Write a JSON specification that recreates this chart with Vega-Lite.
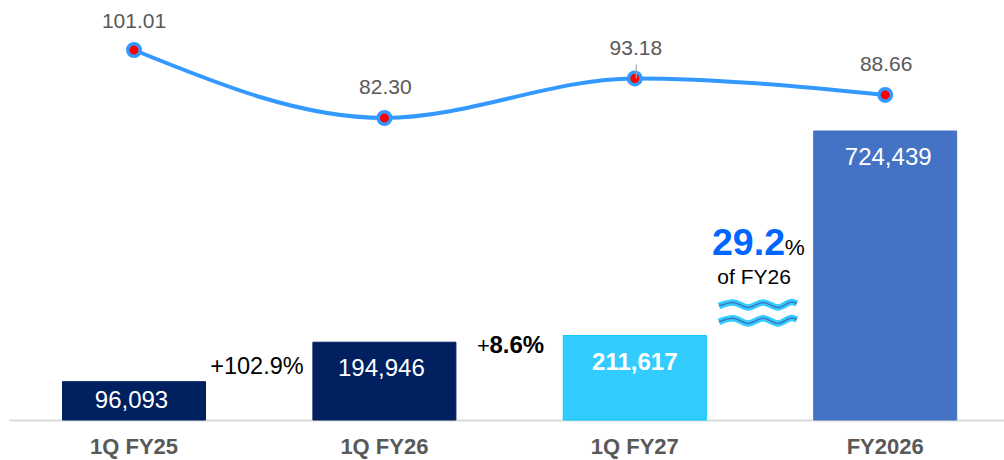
{"$schema":"https://vega.github.io/schema/vega-lite/v6.json","width":1004,"height":460,"padding":0,"autosize":{"type":"none"},"background":"white","config":{"view":{"stroke":null},"text":{"font":"Liberation Sans"}},
"datasets":{
"bars":[{"cat":"1Q FY25","sales":96093,"label":"96,093"},{"cat":"1Q FY26","sales":194946,"label":"194,946"},{"cat":"1Q FY27","sales":211617,"label":"211,617"},{"cat":"FY2026","sales":724439,"label":"724,439"}],
"line":[{"cat":"1Q FY25","v":101.01,"label":"101.01"},{"cat":"1Q FY26","v":82.30,"label":"82.30"},{"cat":"1Q FY27","v":93.18,"label":"93.18"},{"cat":"FY2026","v":88.66,"label":"88.66"}],
"leader":[{"cat":"1Q FY27","v":93.18,"v2":97.0}],
"notes":[{"i":0.491,"y":133000,"t":"+102.9%","k":"a"},{"i":2.477,"y":356000,"t":"of FY26","k":"b"}],
"wave":[
{"w":"a","i":2.337,"y":286000},{"w":"a","i":2.393,"y":294800},{"w":"a","i":2.453,"y":282000},{"w":"a","i":2.513,"y":294800},{"w":"a","i":2.573,"y":282000},{"w":"a","i":2.628,"y":295500},{"w":"a","i":2.648,"y":292000},
{"w":"b","i":2.337,"y":246000},{"w":"b","i":2.393,"y":254800},{"w":"b","i":2.453,"y":242000},{"w":"b","i":2.513,"y":254800},{"w":"b","i":2.573,"y":242000},{"w":"b","i":2.628,"y":255500},{"w":"b","i":2.648,"y":252000}]
},
"resolve":{"scale":{"x":"independent","y":"independent","color":"independent","stroke":"independent"}},
"layer":[
{"data":{"name":"bars"},"mark":{"type":"bar","width":143,"strokeWidth":1},
"encoding":{"x":{"field":"cat","type":"nominal","sort":null,"scale":{"type":"band","range":[8.8,1010.4],"paddingInner":0,"paddingOuter":0},"axis":{"title":null,"offset":-40,"ticks":false,"domainColor":"#D9D9D9","domainWidth":2,"labelFont":"Liberation Sans","labelFontWeight":"bold","labelFontSize":22,"labelColor":"#595959","labelPadding":16,"labelAngle":0,"grid":false}},
"y":{"field":"sales","type":"quantitative","scale":{"domain":[-100268,1052800],"nice":false,"zero":false},"axis":null},
"color":{"field":"cat","type":"nominal","sort":null,"legend":null,"scale":{"range":["#002060","#002060","#33CCFF","#4472C4"]}},
"stroke":{"field":"cat","type":"nominal","sort":null,"legend":null,"scale":{"range":["#002060","#002060","#00C8F5","#4472C4"]}}}},
{"data":{"name":"bars"},"transform":[{"filter":"datum.cat==='1Q FY25'"}],"mark":{"type":"text","fontSize":24,"color":"white","dy":19,"dx":-2.5,"baseline":"middle"},
"encoding":{"x":{"field":"cat","type":"nominal","sort":null,"scale":{"type":"band","domain":["1Q FY25","1Q FY26","1Q FY27","FY2026"],"range":[8.8,1010.4]},"axis":null},"y":{"field":"sales","type":"quantitative","scale":{"domain":[-100268,1052800],"nice":false,"zero":false},"axis":null},"text":{"field":"label"}}},
{"data":{"name":"bars"},"transform":[{"filter":"datum.cat==='1Q FY26'"}],"mark":{"type":"text","fontSize":24,"color":"white","dy":27,"dx":-3,"baseline":"middle"},
"encoding":{"x":{"field":"cat","type":"nominal","sort":null,"scale":{"type":"band","domain":["1Q FY25","1Q FY26","1Q FY27","FY2026"],"range":[8.8,1010.4]},"axis":null},"y":{"field":"sales","type":"quantitative","scale":{"domain":[-100268,1052800],"nice":false,"zero":false},"axis":null},"text":{"field":"label"}}},
{"data":{"name":"bars"},"transform":[{"filter":"datum.cat==='FY2026'"}],"mark":{"type":"text","fontSize":24,"color":"white","dy":27,"dx":3,"baseline":"middle"},
"encoding":{"x":{"field":"cat","type":"nominal","sort":null,"scale":{"type":"band","domain":["1Q FY25","1Q FY26","1Q FY27","FY2026"],"range":[8.8,1010.4]},"axis":null},"y":{"field":"sales","type":"quantitative","scale":{"domain":[-100268,1052800],"nice":false,"zero":false},"axis":null},"text":{"field":"label"}}},
{"data":{"name":"bars"},"transform":[{"filter":"datum.cat==='1Q FY27'"}],"mark":{"type":"text","fontSize":24,"fontWeight":"bold","color":"white","dy":27,"baseline":"middle"},
"encoding":{"x":{"field":"cat","type":"nominal","sort":null,"scale":{"type":"band","domain":["1Q FY25","1Q FY26","1Q FY27","FY2026"],"range":[8.8,1010.4]},"axis":null},"y":{"field":"sales","type":"quantitative","scale":{"domain":[-100268,1052800],"nice":false,"zero":false},"axis":null},"text":{"field":"label"}}},
{"data":{"name":"line"},"mark":{"type":"line","interpolate":"monotone","color":"#3399FF","strokeWidth":4},
"encoding":{"x":{"field":"cat","type":"nominal","sort":null,"scale":{"type":"band","domain":["1Q FY25","1Q FY26","1Q FY27","FY2026"],"range":[8.8,1010.4]},"axis":null},"y":{"field":"v","type":"quantitative","scale":{"domain":[-11.81,114.77],"nice":false,"zero":false},"axis":null}}},
{"data":{"name":"line"},"mark":{"type":"point","shape":"circle","filled":true,"fill":"#FF0000","stroke":"#3399FF","strokeWidth":3.5,"size":156,"opacity":1},
"encoding":{"x":{"field":"cat","type":"nominal","sort":null,"scale":{"type":"band","domain":["1Q FY25","1Q FY26","1Q FY27","FY2026"],"range":[8.8,1010.4]},"axis":null},"y":{"field":"v","type":"quantitative","scale":{"domain":[-11.81,114.77],"nice":false,"zero":false},"axis":null}}},
{"data":{"name":"leader"},"mark":{"type":"rule","color":"#A6A6A6","strokeWidth":1.2,"xOffset":1.5},
"encoding":{"x":{"field":"cat","type":"nominal","sort":null,"scale":{"type":"band","domain":["1Q FY25","1Q FY26","1Q FY27","FY2026"],"range":[8.8,1010.4]},"axis":null},"y":{"field":"v","type":"quantitative","scale":{"domain":[-11.81,114.77],"nice":false,"zero":false},"axis":null},"y2":{"field":"v2"}}},
{"data":{"name":"line"},"transform":[{"filter":"datum.cat==='1Q FY25'"}],"mark":{"type":"text","fontSize":21,"color":"#595959","dy":-28,"baseline":"middle"},
"encoding":{"x":{"field":"cat","type":"nominal","sort":null,"scale":{"type":"band","domain":["1Q FY25","1Q FY26","1Q FY27","FY2026"],"range":[8.8,1010.4]},"axis":null},"y":{"field":"v","type":"quantitative","scale":{"domain":[-11.81,114.77],"nice":false,"zero":false},"axis":null},"text":{"field":"label"}}},
{"data":{"name":"line"},"transform":[{"filter":"datum.cat!=='1Q FY25'"}],"mark":{"type":"text","fontSize":21,"color":"#595959","dy":-29.5,"dx":1,"baseline":"middle"},
"encoding":{"x":{"field":"cat","type":"nominal","sort":null,"scale":{"type":"band","domain":["1Q FY25","1Q FY26","1Q FY27","FY2026"],"range":[8.8,1010.4]},"axis":null},"y":{"field":"v","type":"quantitative","scale":{"domain":[-11.81,114.77],"nice":false,"zero":false},"axis":null},"text":{"field":"label"}}},
{"data":{"name":"notes"},"transform":[{"filter":"datum.k==='a'"}],"mark":{"type":"text","fontSize":23.5,"color":"#000000","baseline":"middle"},
"encoding":{"x":{"field":"i","type":"quantitative","scale":{"domain":[-0.5353,3.4754],"nice":false,"zero":false},"axis":null},"y":{"field":"y","type":"quantitative","scale":{"domain":[-100268,1052800],"nice":false,"zero":false},"axis":null},"text":{"field":"t"}}},
{"data":{"name":"notes"},"transform":[{"filter":"datum.k==='b'"}],"mark":{"type":"text","fontSize":21,"color":"#000000","baseline":"middle"},
"encoding":{"x":{"field":"i","type":"quantitative","scale":{"domain":[-0.5353,3.4754],"nice":false,"zero":false},"axis":null},"y":{"field":"y","type":"quantitative","scale":{"domain":[-100268,1052800],"nice":false,"zero":false},"axis":null},"text":{"field":"t"}}},
{"data":{"values":[{"i":1.37,"y":186000,"t":"+"}]},"mark":{"type":"text","fontSize":22,"color":"#000000","baseline":"middle","align":"left"},
"encoding":{"x":{"field":"i","type":"quantitative","scale":{"domain":[-0.5353,3.4754],"nice":false,"zero":false},"axis":null},"y":{"field":"y","type":"quantitative","scale":{"domain":[-100268,1052800],"nice":false,"zero":false},"axis":null},"text":{"field":"t"}}},
{"data":{"values":[{"i":1.42,"y":186000,"t":"8.6%"}]},"mark":{"type":"text","fontSize":24,"fontWeight":"bold","color":"#000000","baseline":"middle","align":"left"},
"encoding":{"x":{"field":"i","type":"quantitative","scale":{"domain":[-0.5353,3.4754],"nice":false,"zero":false},"axis":null},"y":{"field":"y","type":"quantitative","scale":{"domain":[-100268,1052800],"nice":false,"zero":false},"axis":null},"text":{"field":"t"}}},
{"data":{"values":[{"i":2.309,"y":441000,"t":"29.2"}]},"mark":{"type":"text","fontSize":37.5,"fontWeight":"bold","color":"#0066FF","baseline":"middle","align":"left"},
"encoding":{"x":{"field":"i","type":"quantitative","scale":{"domain":[-0.5353,3.4754],"nice":false,"zero":false},"axis":null},"y":{"field":"y","type":"quantitative","scale":{"domain":[-100268,1052800],"nice":false,"zero":false},"axis":null},"text":{"field":"t"}}},
{"data":{"values":[{"i":2.6,"y":431000,"t":"%"}]},"mark":{"type":"text","fontSize":22.5,"color":"#000000","baseline":"middle","align":"left"},
"encoding":{"x":{"field":"i","type":"quantitative","scale":{"domain":[-0.5353,3.4754],"nice":false,"zero":false},"axis":null},"y":{"field":"y","type":"quantitative","scale":{"domain":[-100268,1052800],"nice":false,"zero":false},"axis":null},"text":{"field":"t"}}},
{"data":{"name":"wave"},"mark":{"type":"line","interpolate":"monotone","color":"#33CCFF","strokeWidth":6.5},
"encoding":{"detail":{"field":"w"},"x":{"field":"i","type":"quantitative","scale":{"domain":[-0.5353,3.4754],"nice":false,"zero":false},"axis":null},"y":{"field":"y","type":"quantitative","scale":{"domain":[-100268,1052800],"nice":false,"zero":false},"axis":null}}},
{"data":{"name":"wave"},"mark":{"type":"line","interpolate":"monotone","color":"#4472C4","strokeWidth":1.5},
"encoding":{"detail":{"field":"w"},"x":{"field":"i","type":"quantitative","scale":{"domain":[-0.5353,3.4754],"nice":false,"zero":false},"axis":null},"y":{"field":"y","type":"quantitative","scale":{"domain":[-100268,1052800],"nice":false,"zero":false},"axis":null}}}
]}
